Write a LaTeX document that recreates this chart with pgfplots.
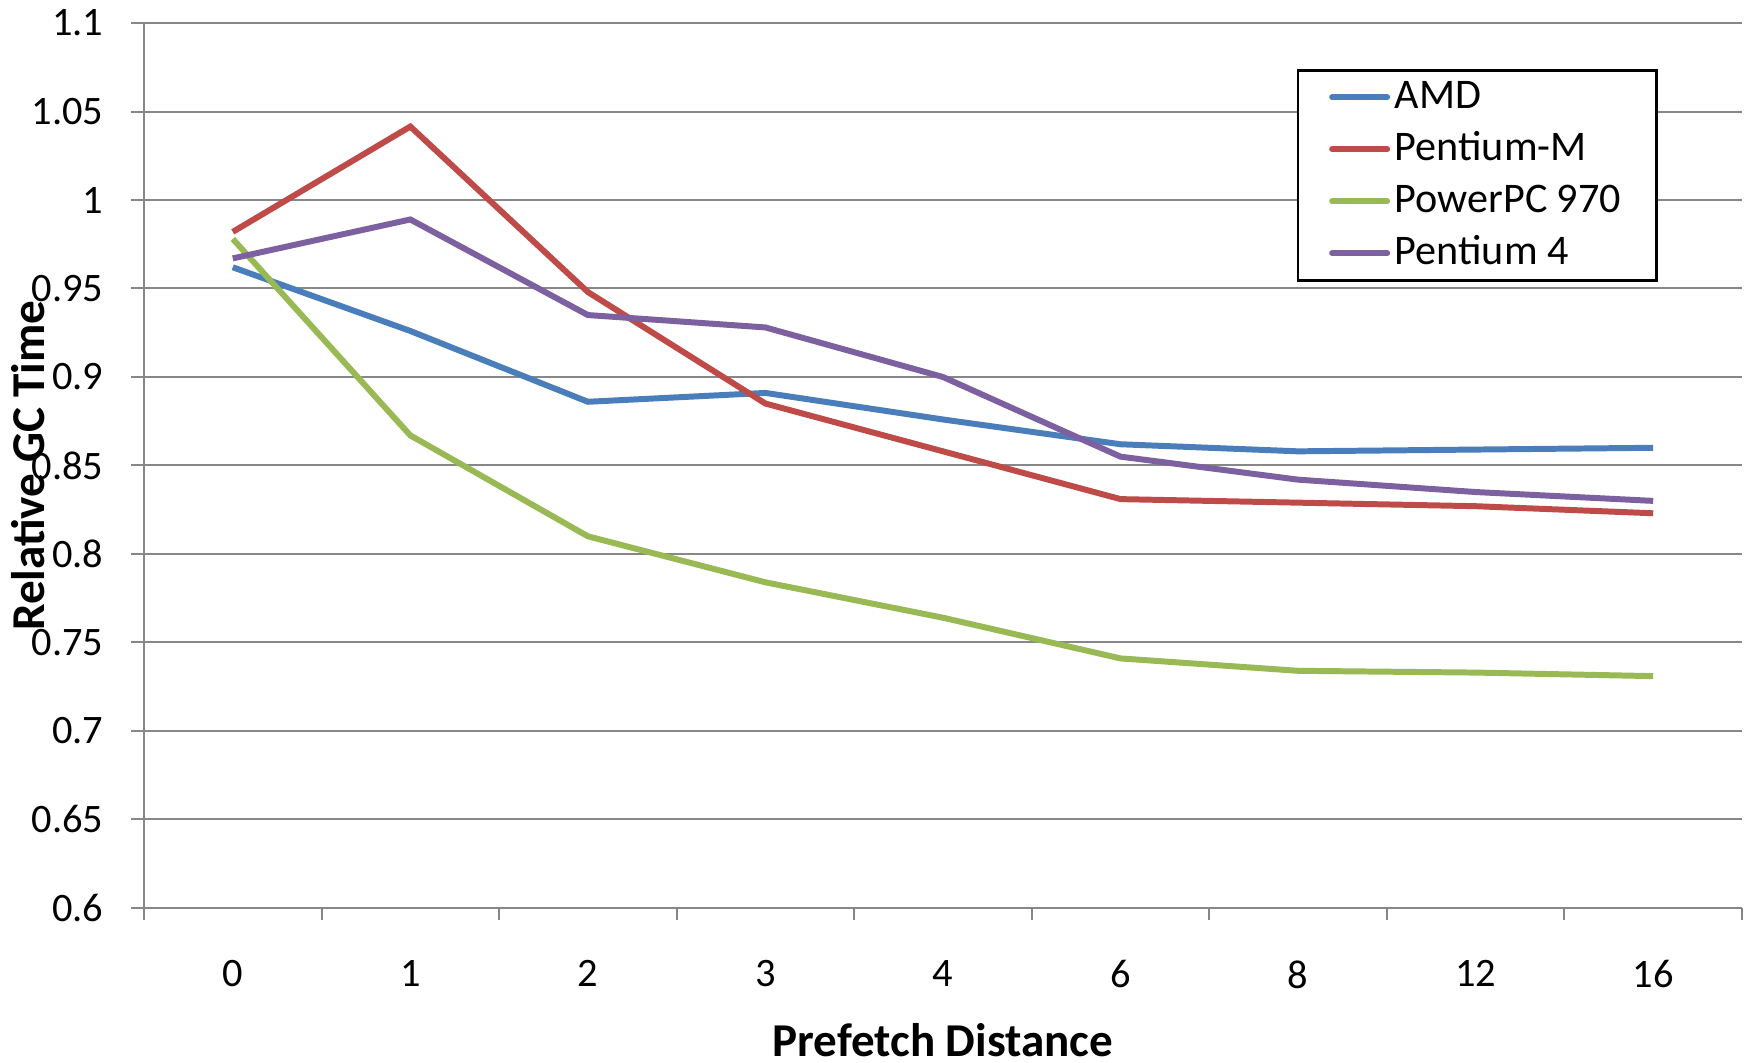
\documentclass[border=0pt]{standalone}
\usepackage{fontspec}
\setmainfont{Carlito}
\usepackage{pgfplots}
\pgfplotsset{compat=1.18}
\definecolor{amd}{HTML}{4A7EBB}
\definecolor{pm}{HTML}{BE4B48}
\definecolor{ppc}{HTML}{98B954}
\definecolor{p4}{HTML}{7D60A0}
\definecolor{gridc}{HTML}{878787}
\begin{document}
\fontsize{11.4}{13.5}\selectfont
\begin{tikzpicture}
\useasboundingbox (-14.4mm,-15.5mm) rectangle (160.4mm,90.8mm);
\begin{axis}[
  scale only axis,
  width=159.8mm, height=88.5mm,
  at={(0,0)}, anchor=south west,
  xmin=-0.5, xmax=8.5,
  ymin=0.6, ymax=1.1,
  xtick={-0.5,0.5,1.5,2.5,3.5,4.5,5.5,6.5,7.5,8.5},
  x tick label as interval,
  xticklabels={0,1,2,3,4,6,8,12,16},
  ytick={0.6,0.65,0.7,0.75,0.8,0.85,0.9,0.95,1,1.05,1.1},
  yticklabels={0.6,0.65,0.7,0.75,0.8,0.85,0.9,0.95,1,1.05,1.1},
  axis x line*=bottom, axis y line*=left,
  axis line style={gridc, line width=0.2mm},
  tick align=outside,
  major tick length=1.25mm,
  tick style={gridc, line width=0.2mm},
  ymajorgrids,
  major grid style={gridc, line width=0.2mm},
  yticklabel style={font=\fontsize{11.5}{13.5}\selectfont, xshift=-1.4mm},
  xticklabel style={font=\fontsize{11.5}{13.5}\selectfont, yshift=-2.6mm},
  xlabel={\fontsize{13.4}{15}\selectfont\bfseries Prefetch Distance},
  ylabel={\fontsize{13.4}{15}\selectfont\bfseries Relative GC Time},
  every axis x label/.style={at={(axis description cs:0.5,-0.149)}, anchor=center, inner sep=0pt},
  every axis y label/.style={at={(axis description cs:-0.0725,0.5)}, rotate=90, anchor=center, inner sep=0pt},
  legend style={at={(axis description cs:0.7215,0.948)}, anchor=north west,
    draw=black, line width=0.25mm, inner xsep=3.1mm, inner ysep=0.1mm,
    font=\fontsize{12}{14}\selectfont,
    nodes={inner xsep=0.45mm, inner ysep=0.5mm, text height=3.2mm, text depth=1.0mm},
    cells={anchor=west}},
  legend image code/.code={\draw[#1, line width=1.7pt, line cap=round] (0mm,0mm) -- (5.5mm,0mm);},
  every axis plot/.append style={line width=1.7pt},
]
\addplot[amd] coordinates {(0,0.962) (1,0.926) (2,0.886) (3,0.891) (4,0.876) (5,0.862) (6,0.858) (7,0.859) (8,0.860)};
\addlegendentry{AMD}
\addplot[pm] coordinates {(0,0.982) (1,1.0415) (2,0.948) (3,0.885) (4,0.858) (5,0.831) (6,0.829) (7,0.827) (8,0.823)};
\addlegendentry{Pentium-M}
\addplot[ppc] coordinates {(0,0.978) (1,0.867) (2,0.810) (3,0.784) (4,0.764) (5,0.741) (6,0.734) (7,0.733) (8,0.731)};
\addlegendentry{PowerPC 970}
\addplot[p4] coordinates {(0,0.967) (1,0.989) (2,0.935) (3,0.928) (4,0.900) (5,0.855) (6,0.842) (7,0.835) (8,0.830)};
\addlegendentry{Pentium 4}
\end{axis}
\end{tikzpicture}
\end{document}
